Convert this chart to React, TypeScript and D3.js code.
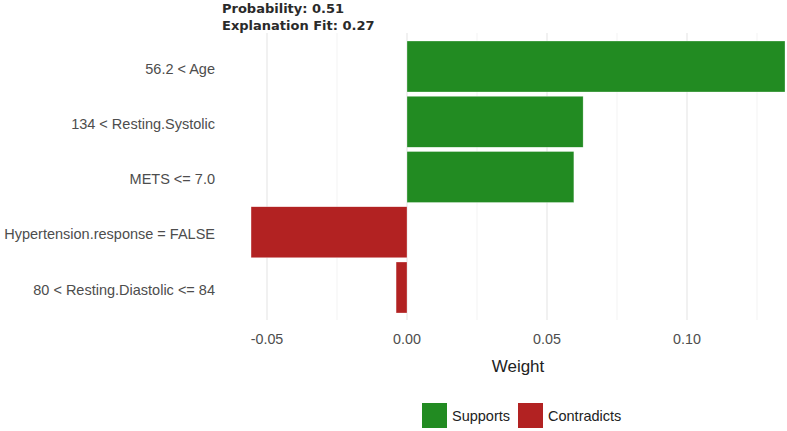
import React from "react";
import * as d3 from "d3";

const features = [
  "56.2 < Age",
  "134 < Resting.Systolic",
  "METS <= 7.0",
  "Hypertension.response = FALSE",
  "80 < Resting.Diastolic <= 84",
];
const weights = [0.135, 0.0629, 0.0596, -0.0557, -0.0039];
const xTicks = [-0.05, 0, 0.05, 0.1];
const xMinor = [-0.025, 0.025, 0.075, 0.125];
const legendLabels = ["Supports", "Contradicts"];
const titleLines = ["Probability: 0.51", "Explanation Fit: 0.27"];

const GREEN = "#228B22";
const RED = "#B22222";

export default function App() {
  const W = 787, H = 431;
  const x = d3.scaleLinear().domain([0, 0.05]).range([407, 547]);
  const y = d3.scalePoint().domain(features).range([66.5, 287.5]);
  const barH = 51;
  const panelTop = 33, panelBottom = 320;
  const panelLeft = 224, panelRight = 812;
  const fmt = (v: number) => d3.format(".2f")(v).replace("\u2212", "-");
  return (
    <svg width={W} height={H} style={{ position: "absolute", left: 0, top: 0, background: "#fff" }}
      fontFamily="'Liberation Sans', Arial, sans-serif">
      <rect x={0} y={0} width={W} height={H} fill="#fff" />
      {xMinor.map((t) => (
        <line key={"m" + t} x1={x(t)} x2={x(t)} y1={panelTop} y2={panelBottom} stroke="#f3f3f3" strokeWidth={1} />
      ))}
      {xTicks.map((t) => (
        <line key={"g" + t} x1={x(t)} x2={x(t)} y1={panelTop} y2={panelBottom} stroke="#e8e8e8" strokeWidth={1.2} />
      ))}
      {features.map((f, i) => {
        const v = weights[i];
        const x0 = x(Math.min(0, v));
        const x1 = x(Math.max(0, v));
        return (
          <rect key={f} x={x0} y={y(f)! - barH / 2} width={x1 - x0} height={barH}
            fill={v >= 0 ? GREEN : RED} stroke="#ffffff" strokeOpacity={0.6} strokeWidth={0.5} />
        );
      })}
      {features.map((f) => (
        <text key={"l" + f} x={215} y={y(f)! + 2} dy="0.35em" textAnchor="end"
          fontSize={14.5} fill="#4d4d4d">{f}</text>
      ))}
      {xTicks.map((t) => (
        <text key={"t" + t} x={x(t)} y={339} dy="0.35em" textAnchor="middle" fontSize={14.3} fill="#4d4d4d">
          {fmt(t)}
        </text>
      ))}
      <text x={(panelLeft + panelRight) / 2} y={366} dy="0.35em" textAnchor="middle" fontSize={17} fill="#222">Weight</text>
      <g fontFamily="'DejaVu Sans', Verdana, sans-serif" fontWeight="bold" fontSize={13} fill="#2a2a2a">
        {titleLines.map((s, i) => (
          <text key={s} x={222} y={8.5 + i * 17} dy="0.35em">{s}</text>
        ))}
      </g>
      {legendLabels.map((s, i) => {
        const bx = i === 0 ? 422 : 518;
        return (
          <g key={s}>
            <rect x={bx} y={403} width={25} height={25} fill={i === 0 ? GREEN : RED} />
            <text x={bx + 30} y={415.5} dy="0.35em" fontSize={14.5} fill="#222">{s}</text>
          </g>
        );
      })}
    </svg>
  );
}
